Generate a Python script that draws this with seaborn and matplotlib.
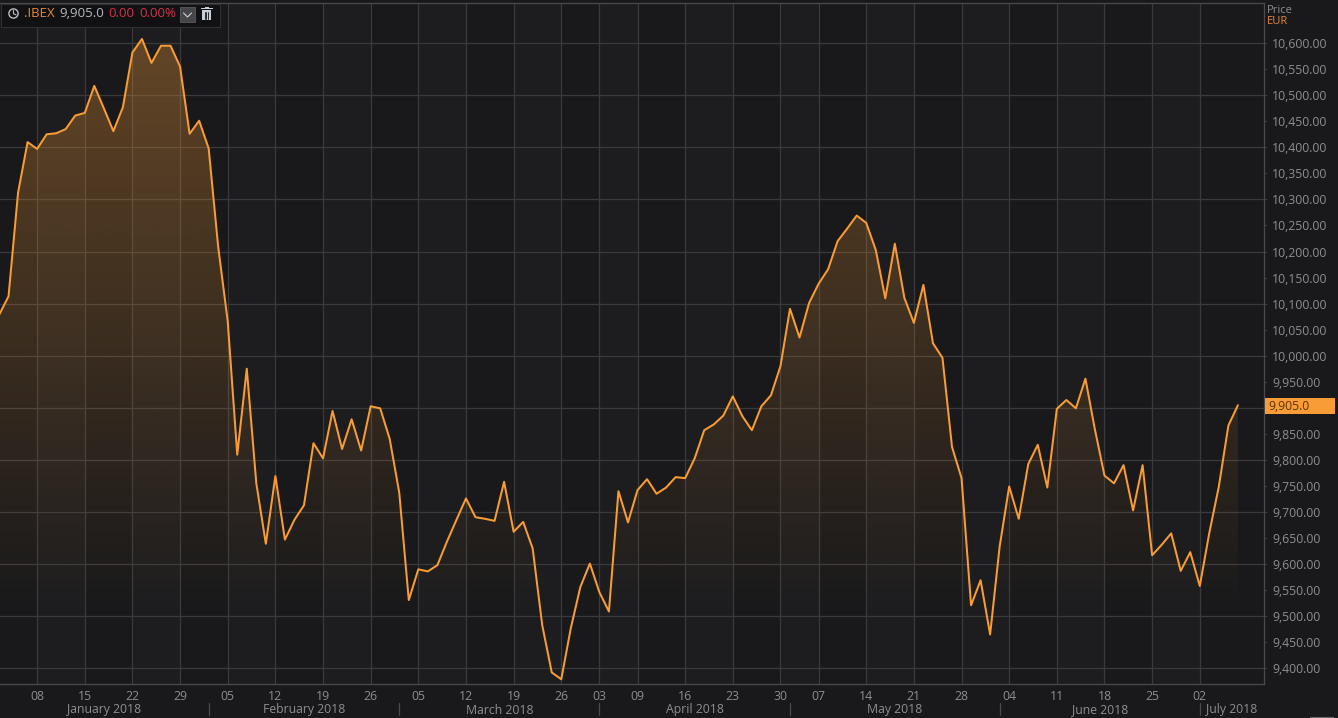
import numpy as np
import pandas as pd
import matplotlib.pyplot as plt
from matplotlib.patches import Rectangle, Circle
from matplotlib.ticker import FuncFormatter
import seaborn as sns

# daily closes
closes = [10078, 10114, 10313, 10410, 10397, 10425, 10427, 10435, 10461, 10466,
          10518, 10475, 10431, 10477, 10582, 10608, 10562, 10595, 10595, 10555,
          10426, 10451, 10398, 10209, 10066, 9810, 9975, 9755, 9639, 9769,
          9647, 9685, 9713, 9832, 9803, 9894, 9821, 9878, 9818, 9903,
          9899, 9840, 9737, 9531, 9590, 9586, 9598, 9643, 9685, 9726,
          9690, 9687, 9683, 9758, 9662, 9681, 9630, 9483, 9392, 9379,
          9477, 9556, 9601, 9546, 9509, 9740, 9680, 9742, 9763, 9735,
          9747, 9767, 9765, 9803, 9857, 9868, 9885, 9922, 9884, 9857,
          9903, 9924, 9980, 10090, 10035, 10101, 10138, 10166, 10220, 10244,
          10269, 10255, 10203, 10110, 10215, 10111, 10063, 10136, 10024, 9996,
          9825, 9765, 9521, 9569, 9465, 9634, 9749, 9687, 9792, 9829,
          9747, 9898, 9915, 9899, 9956, 9858, 9770, 9755, 9790, 9703,
          9790, 9617, 9637, 9659, 9587, 9623, 9558, 9660, 9749, 9866, 9905]
closed_days = ['2018-03-30', '2018-04-02', '2018-05-01']
price_ticks = list(range(9400, 10601, 50))
price_grid = list(range(9400, 10601, 100))
hidden_tick = 9900  # sits under the last price tag
instrument = '.IBEX'
last_price = '9,905.0'
change = '0.00'
change_pct = '0.00%'

BG = '#19191b'
BAND = '#1d1d1f'
GRID = '#3a3a3c'
ORANGE = '#f89c35'
TXT = '#8e8e90'

days = pd.bdate_range('2018-01-02', '2018-07-06').difference(pd.to_datetime(closed_days))
df = pd.DataFrame({'date': days, 'pos': np.arange(len(days)), 'close': closes})

sns.set_theme(style='dark', rc={'figure.facecolor': BG, 'axes.facecolor': BG})
plt.rcParams['font.family'] = ['Open Sans', 'DejaVu Sans']

fig = plt.figure(figsize=(13.38, 7.18), dpi=100)
W, H = 1338, 718
ax = fig.add_axes([0, 1 - 684.3 / H, 1264.3 / W, (684.3 - 2.5) / H])

sns.lineplot(data=df, x='pos', y='close', color=ORANGE, lw=1.45, estimator=None,
             ax=ax, zorder=5)

x0, x1 = 0.105, 132.77
y0, y1 = 9369.3, 10678
ax.set_xlim(x0, x1)
ax.set_ylim(y0, y1)

# first trading day of every week gets a tick, the first one of each month a divider
weeks = df.groupby(df['date'].dt.isocalendar().week.values).first().iloc[1:]
months = df.groupby(df['date'].dt.month).first().iloc[1:]

# weekly background bands
edges = list(weeks['pos'])
for a, b in zip(edges[0::2], edges[1::2]):
    ax.axvspan(a, b, color=BAND, lw=0, zorder=0)

# gradient under the line
poly = ax.fill_between(df['pos'], df['close'], 9500, color='none', lw=0)
rgba = np.zeros((256, 2, 4))
rgba[..., :3] = plt.matplotlib.colors.to_rgb(ORANGE)
rgba[..., 3] = np.linspace(0.32, 0, 256)[:, None]
im = ax.imshow(rgba, extent=(0, 131, 9500, 10600), origin='upper', aspect='auto', zorder=2)
path = poly.get_paths()[0]
im.set_clip_path(path, transform=poly.get_transform())
ax.set_xlim(x0, x1)
ax.set_ylim(y0, y1)

ax.set_xlabel('')
ax.set_ylabel('')
ax.yaxis.tick_right()
ax.set_yticks(price_ticks)
ax.yaxis.set_major_formatter(FuncFormatter(lambda v, p: '' if v == hidden_tick else f'{v:,.2f}'))
ax.set_xticks(weeks['pos'])
ax.set_xticklabels(weeks['date'].dt.strftime('%d'))
ax.tick_params(axis='both', which='major', colors=GRID, labelcolor=TXT, labelsize=8.8,
               length=2.5, width=0.8, pad=3)
ax.tick_params(axis='x', pad=1.5)
for lab in ax.get_xticklabels() + ax.get_yticklabels():
    lab.set_color(TXT)

ax.grid(False)
ax.xaxis.grid(True, color=GRID, lw=0.9, zorder=1)
for v in price_grid:
    ax.axhline(v, color=GRID, lw=0.9, zorder=1)
ax.set_axisbelow(True)
for name, sp in ax.spines.items():
    sp.set_visible(name != 'left')
    sp.set_color('#4a4a4c')
    sp.set_linewidth(0.9)

# overlay in pixel coordinates for the header widget and month row
ov = fig.add_axes([0, 0, 1, 1], facecolor='none')
ov.set_xlim(0, W)
ov.set_ylim(H, 0)
ov.axis('off')

bounds = [x0] + list(months['pos']) + [x1]
px = lambda p: (p - x0) / (x1 - x0) * 1264.3
for p in months['pos']:
    ov.plot([px(p)] * 2, [703, 715], color='#4a4a4c', lw=0.9)
for a, b, d in zip(bounds[:-1], bounds[1:], df.groupby(df['date'].dt.month)['date'].first()):
    ov.text((px(a) + px(b)) / 2, 710, d.strftime('%B %Y'), color=TXT, fontsize=8.8,
            ha='center', va='center')

ov.text(1267, 10.5, 'Price', color=TXT, fontsize=8, va='center')
ov.text(1267, 22, 'EUR', color='#e8873a', fontsize=8, va='center')

ov.add_patch(Rectangle((1265, 398.3), 70, 15.4, color=ORANGE, lw=0))
ov.text(1268, 406, last_price, color='#5c3208', fontsize=8.8, va='center')

# small box cut off by the lower edge
ov.plot([1309.5, 1309.5, 1333, 1333], [718, 716.5, 716.5, 718], color='#6a6a6c', lw=0.8)

ov.add_patch(Rectangle((0.5, 3.5), 219, 23, fc='#111113', ec='#303032', lw=0.8, zorder=6))
ov.add_patch(Circle((13.5, 13.5), 4.6, fc='none', ec='#b9bec4', lw=1, zorder=7))
ov.plot([13.5, 13.5, 16], [10.5, 13.8, 14.8], color='#b9bec4', lw=0.8, zorder=7)
ov.text(24, 13.5, instrument, color='#e8873a', fontsize=9.5, va='center', zorder=7)
ov.text(59.5, 13.5, last_price, color='#b4b8bc', fontsize=9.5, va='center', zorder=7)
ov.text(108.5, 13.5, change, color='#d5324a', fontsize=9.5, va='center', zorder=7)
ov.text(139, 13.5, change_pct, color='#d5324a', fontsize=9.5, va='center', zorder=7)
ov.add_patch(Rectangle((180, 7), 15, 15, fc='#45454a', ec='#5a5a5e', lw=0.6, zorder=7))
ov.plot([183.5, 187.5, 191.5], [13, 17, 13], color='#d0d0d4', lw=0.8, zorder=8)
# bin icon
ov.add_patch(Rectangle((202, 10), 9, 10, fc='#c8d0da', lw=0, zorder=7))
ov.add_patch(Rectangle((200.5, 8.2), 12, 1.2, fc='#c8d0da', lw=0, zorder=7))
ov.add_patch(Rectangle((204.5, 6.8), 4, 1.4, fc='#c8d0da', lw=0, zorder=7))
for bx in (204.6, 206.1, 207.6):
    ov.plot([bx + 0.2, bx + 0.2], [11.5, 18.5], color='#111113', lw=0.6, zorder=8)

fig.savefig('out.png', dpi=100, facecolor=BG)
